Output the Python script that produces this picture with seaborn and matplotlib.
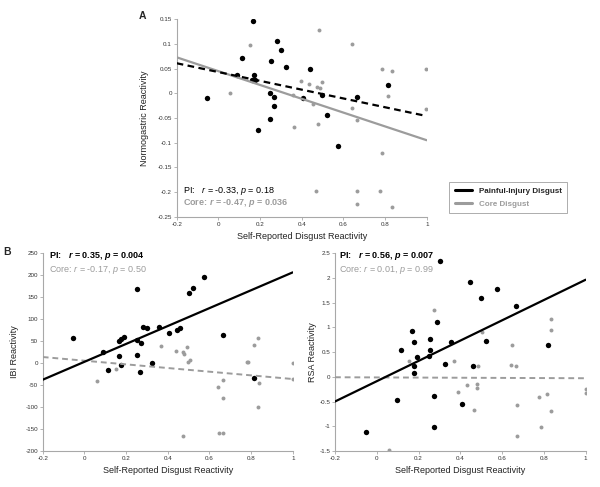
import matplotlib
matplotlib.use("Agg")
import matplotlib.pyplot as plt
from matplotlib.lines import Line2D
import numpy as np
import pandas as pd
import seaborn as sns

# x axis shared by all panels
x_ticks = [-0.2, 0, 0.2, 0.4, 0.6, 0.8, 1]
x_ticklabels = ["-0.2", "0", "0.2", "0.4", "0.6", "0.8", "1"]
fit_x = [-0.2, 1.0]

# Panel A: normogastric reactivity
a_pi_x = [0.168, 0.281, 0.299, 0.112, 0.253, 0.326, 0.441, 0.173, 0.089, 0.161, 0.177, -0.056,
          0.248, 0.266, 0.405, 0.499, 0.664, 0.813, 0.268, 0.520, 0.249, 0.189, 0.576]
a_pi_y = [0.147, 0.107, 0.088, 0.072, 0.066, 0.054, 0.049, 0.038, 0.038, 0.028, 0.027, -0.010,
          0.001, -0.007, -0.009, -0.004, -0.008, 0.016, -0.025, -0.043, -0.051, -0.074, -0.107]
a_core_x = [0.152, 0.483, 0.641, 0.784, 0.832, 0.998, 0.395, 0.437, 0.499, 0.473, 0.486, 0.056, 0.357,
            0.456, 0.643, 0.813, 0.998, 0.665, 0.480, 0.365, 0.787, 0.469, 0.665, 0.776, 0.665, 0.832]
a_core_y = [0.097, 0.128, 0.100, 0.050, 0.045, 0.050, 0.026, 0.019, 0.022, 0.013, 0.011, 0.000, -0.003,
            -0.021, -0.030, -0.006, -0.031, -0.053, -0.063, -0.068, -0.120, -0.198, -0.198, -0.198, -0.224, -0.231]
a_pi_fit = [0.061, -0.046]
a_core_fit = [0.073, -0.095]
a_yticks = [-0.25, -0.2, -0.15, -0.1, -0.05, 0, 0.05, 0.1, 0.15]
a_yticklabels = ["-0.25", "-0.2", "-0.15", "-0.1", "-0.05", "0", "0.05", "0.1", "0.15"]

# Panel B left: IBI reactivity
b_pi_x = [-0.053, 0.254, 0.501, 0.521, 0.576, 0.091, 0.166, 0.174, 0.192, 0.251, 0.270, 0.283, 0.302,
          0.357, 0.405, 0.443, 0.459, 0.665, 0.168, 0.251, 0.326, 0.112, 0.178, 0.268, 0.816]
b_pi_y = [57.5, 168, 160, 170, 195, 25, 49, 54.5, 59, 52, 44.5, 81, 79.5,
          82.5, 68, 75, 78.6, 64, 15, 18, 0.7, -16, -5.5, -21, -34]
b_core_x = [0.366, 0.438, 0.472, 0.480, 0.494, 0.495, 0.506, 0.779, 0.787, 0.816, 0.832, 1.0,
            0.152, 0.059, 0.667, 0.643, 0.665, 0.839, 0.835, 1.0, 0.645, 0.667, 0.475]
b_core_y = [39, 28, 25.7, 21, 35.5, 3, 7.5, 3, 3, 41, 57.5, 0.7,
            -13.6, -42, -39, -55, -80, -45.5, -99, -37, -158, -158, -166]
b_pi_fit = [-38, 206]
b_core_fit = [13.6, -36.4]
b_yticks = [-200, -150, -100, -50, 0, 50, 100, 150, 200, 250]
b_yticklabels = ["-200", "-150", "-100", "-50", "0", "50", "100", "150", "200", "250"]

# Panel B right: RSA reactivity
c_pi_x = [0.445, 0.500, 0.577, 0.666, 0.286, 0.169, 0.176, 0.255, 0.357, 0.521, 0.115, 0.255, 0.194,
          0.252, 0.328, 0.178, 0.461, 0.176, 0.818, 0.099, 0.274, 0.408, -0.050, 0.274, 0.302]
c_pi_y = [1.91, 1.59, 1.78, 1.42, 1.11, 0.92, 0.71, 0.76, 0.70, 0.73, 0.54, 0.54, 0.40,
          0.42, 0.26, 0.21, 0.21, 0.08, 0.65, -0.46, -0.39, -0.56, -1.11, -1.01, 2.33]
c_core_x = [0.273, 0.502, 0.834, 0.834, 0.646, 0.155, 0.368, 0.483, 0.643, 0.668, 0.391, 0.432,
            0.478, 0.479, 0.467, 0.669, 0.779, 0.814, 0.833, 1.0, 1.0, 0.788, 0.669, 0.058]
c_core_y = [1.35, 0.91, 1.17, 0.94, 0.64, 0.31, 0.32, 0.21, 0.23, 0.21, -0.30, -0.17,
            -0.15, -0.23, -0.68, -0.57, -0.41, -0.34, -0.70, -0.25, -0.33, -1.01, -1.20, -1.47]
c_pi_fit = [-0.50, 1.96]
c_core_fit = [-0.01, -0.03]
c_yticks = [-1.5, -1, -0.5, 0, 0.5, 1, 1.5, 2, 2.5]
c_yticklabels = ["-1.5", "-1", "-0.5", "0", "0.5", "1", "1.5", "2", "2.5"]

BLACK = "#000000"
GRAY = "#9c9c9c"
SPINE = "#a8a8a8"

sns.set_style("ticks")
plt.rcParams["font.family"] = ["Liberation Sans", "DejaVu Sans"]
plt.rcParams["mathtext.fontset"] = "custom"
plt.rcParams["mathtext.rm"] = "Liberation Sans"
plt.rcParams["mathtext.it"] = "Liberation Sans:italic"
plt.rcParams["mathtext.bf"] = "Liberation Sans:bold"
plt.rcParams["mathtext.bfit"] = "Liberation Sans:bold:italic"

fig = plt.figure(figsize=(6, 4.87), dpi=100)
ax_a = fig.add_axes([0.2945, 0.555, 0.4167, 0.4053])
ax_b = fig.add_axes([0.0712, 0.0739, 0.4167, 0.4066])
ax_c = fig.add_axes([0.5583, 0.0739, 0.4178, 0.4066])


def draw_panel(ax, pi_x, pi_y, core_x, core_y, pi_fit, core_fit, pi_dashed):
    sns.scatterplot(x=core_x, y=core_y, ax=ax, color=GRAY, s=8, linewidth=0, zorder=2)
    sns.scatterplot(x=pi_x, y=pi_y, ax=ax, color=BLACK, s=15, linewidth=0, zorder=3)
    fits = pd.DataFrame({"x": fit_x, "pi": pi_fit, "core": core_fit})
    if pi_dashed:
        sns.lineplot(data=fits, x="x", y="core", ax=ax, color=GRAY, lw=1.6, zorder=4)
        sns.lineplot(data=fits, x="x", y="pi", ax=ax, color=BLACK, lw=1.6, dashes=False,
                     linestyle=(0, (3, 2)), zorder=5)
    else:
        sns.lineplot(data=fits, x="x", y="core", ax=ax, color=GRAY, lw=1.4,
                     linestyle=(0, (3, 2)), zorder=4)
        sns.lineplot(data=fits, x="x", y="pi", ax=ax, color=BLACK, lw=1.6, zorder=5)
    ax.set_xlim(-0.2, 1)
    ax.set_xticks(x_ticks)
    ax.set_xticklabels(x_ticklabels)
    ax.set_xlabel("Self-Reported Disgust Reactivity", fontsize=6.5, color="#222222")
    ax.xaxis.set_label_coords(0.5, -0.075)
    sns.despine(ax=ax)
    for side in ["left", "bottom"]:
        ax.spines[side].set_color(SPINE)
        ax.spines[side].set_linewidth(0.8)
    ax.tick_params(axis="both", labelsize=4.5, length=2, width=0.6, color=SPINE,
                   labelcolor="#333333", pad=1.5)


draw_panel(ax_a, a_pi_x, a_pi_y, a_core_x, a_core_y, a_pi_fit, a_core_fit, pi_dashed=True)
ax_a.set_ylim(-0.25, 0.15)
ax_a.set_yticks(a_yticks)
ax_a.set_yticklabels(a_yticklabels)
ax_a.set_ylabel("Normogastric Reactivity", fontsize=6.5, color="#222222")
ax_a.yaxis.set_label_coords(-0.11, 0.5)
ax_a.text(0.026, 0.132, r"PI:   $r$ = -0.33, $p$ = 0.18", transform=ax_a.transAxes,
          fontsize=6.5, color=BLACK, va="center")
ax_a.text(0.026, 0.071, r"Core: $\mathbfit{r}$ = -0.47, $\mathbfit{p}$ = 0.036", transform=ax_a.transAxes,
          fontsize=6.5, color=GRAY, fontweight="bold", va="center")

draw_panel(ax_b, b_pi_x, b_pi_y, b_core_x, b_core_y, b_pi_fit, b_core_fit, pi_dashed=False)
ax_b.set_ylim(-200, 250)
ax_b.set_yticks(b_yticks)
ax_b.set_yticklabels(b_yticklabels)
ax_b.set_ylabel("IBI Reactivity", fontsize=6.5, color="#222222")
ax_b.yaxis.set_label_coords(-0.095, 0.5)
ax_b.text(0.025, 0.983, r"PI:   $\mathbfit{r}$ = 0.35, $\mathbfit{p}$ = 0.004", transform=ax_b.transAxes,
          fontsize=6.5, color=BLACK, fontweight="bold", va="center")
ax_b.text(0.025, 0.916, r"Core: $r$ = -0.17, $p$ = 0.50", transform=ax_b.transAxes,
          fontsize=6.5, color=GRAY, va="center")

draw_panel(ax_c, c_pi_x, c_pi_y, c_core_x, c_core_y, c_pi_fit, c_core_fit, pi_dashed=False)
ax_c.set_ylim(-1.5, 2.5)
ax_c.set_yticks(c_yticks)
ax_c.set_yticklabels(c_yticklabels)
ax_c.set_ylabel("RSA Reactivity", fontsize=6.5, color="#222222")
ax_c.yaxis.set_label_coords(-0.07, 0.5)
ax_c.text(0.017, 0.983, r"PI:   $\mathbfit{r}$ = 0.56, $\mathbfit{p}$ = 0.007", transform=ax_c.transAxes,
          fontsize=6.5, color=BLACK, fontweight="bold", va="center")
ax_c.text(0.017, 0.916, r"Core: $r$ = 0.01, $p$ = 0.99", transform=ax_c.transAxes,
          fontsize=6.5, color=GRAY, va="center")

fig.text(0.238, 0.967, "A", fontsize=7.5, fontweight="bold", ha="center", va="center")
fig.text(0.012, 0.483, "B", fontsize=7.5, fontweight="bold", ha="center", va="center")

handles = [Line2D([0], [0], color=BLACK, lw=2.2), Line2D([0], [0], color=GRAY, lw=2.2)]
leg = fig.legend(handles, ["Painful-Injury Disgust", "Core Disgust"],
                 loc="upper left", bbox_to_anchor=(449 / 600, 1 - 182 / 487),
                 prop={"size": 5.8, "weight": "bold"}, frameon=True, fancybox=False,
                 handlelength=2.2, handletextpad=0.8, borderpad=0.7, labelspacing=0.6,
                 borderaxespad=0)
leg.get_frame().set_edgecolor("#888888")
leg.get_frame().set_linewidth(0.6)
leg.get_texts()[1].set_color(GRAY)

fig.savefig("out.png", dpi=100, facecolor="white")
